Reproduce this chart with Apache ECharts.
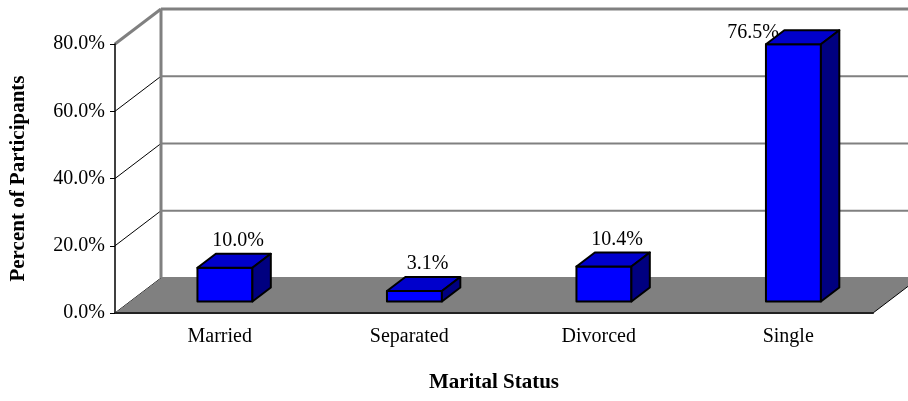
<!DOCTYPE html>
<html lang="en" style="height: 100%">
<head>
  <meta charset="utf-8">
</head>
<body style="height: 100%; margin: 0; background-color: #fff">
  <div id="container" style="width: 908px; height: 401px"></div>
  <script type="text/javascript" src="https://cdn.jsdelivr.net/npm/echarts@6.0.0/dist/echarts.min.js"></script>
  <script type="text/javascript">
    // data
    var categories = ['Married', 'Separated', 'Divorced', 'Single'];
    var percents = [10.0, 3.1, 10.4, 76.5];
    var yTicks = [0, 20, 40, 60, 80];

    var FONT = 'Liberation Serif';
    var DEPTH = [46, -35];      // offset from front plane to back wall
    var BAR_FRONT = 0.33;       // where the bar's front face sits in the depth
    var BAR_DEPTH = 0.4;        // how deep the bar is
    var BAR_WIDTH = 0.29;       // share of a category band

    var dom = document.getElementById('container');
    var myChart = echarts.init(dom, null, { renderer: 'canvas' });

    // back wall, gridlines and floor
    function renderWall(params, api) {
      var cs = params.coordSys;
      var v = api.value(1);
      var y = api.coord([0, v])[1];
      var x0 = cs.x, x1 = cs.x + cs.width;
      var top = v === yTicks[yTicks.length - 1];
      var kids = [];
      kids.push({
        type: 'line',
        shape: { x1: x0, y1: y, x2: x0 + DEPTH[0], y2: y + DEPTH[1] },
        style: { stroke: top ? '#808080' : '#000', lineWidth: top ? 3 : 1 }
      });
      kids.push({
        type: 'line',
        shape: { x1: x0 + DEPTH[0], y1: y + DEPTH[1], x2: x1 + DEPTH[0] + 40, y2: y + DEPTH[1] },
        style: { stroke: '#808080', lineWidth: top ? 3 : 2 }
      });
      if (top) {
        var y0 = api.coord([0, 0])[1];
        kids.push({
          type: 'line',
          shape: { x1: x0 + DEPTH[0], y1: y + DEPTH[1], x2: x0 + DEPTH[0], y2: y0 + DEPTH[1] },
          style: { stroke: '#808080', lineWidth: 3 }
        });
      }
      if (v === 0) {
        kids.push({
          type: 'polygon',
          z2: 5,
          shape: { points: [[x0, y], [x0 + DEPTH[0], y + DEPTH[1]], [x1 + DEPTH[0], y + DEPTH[1]], [x1, y]] },
          style: { fill: '#808080' }
        });
        kids.push({
          type: 'line',
          z2: 6,
          shape: { x1: x1, y1: y, x2: x1 + DEPTH[0], y2: y + DEPTH[1] },
          style: { stroke: '#000', lineWidth: 1 }
        });
      }
      return { type: 'group', children: kids };
    }

    function renderBar(params, api) {
      var cs = params.coordSys;
      var i = api.value(0), v = api.value(1);
      var base = api.coord([i, 0]);
      var topP = api.coord([i, v]);
      var w = api.size([1, 0])[0] * BAR_WIDTH;
      var cx = base[0] + BAR_FRONT * DEPTH[0];
      var by = base[1] + BAR_FRONT * DEPTH[1];
      var ty = topP[1] + BAR_FRONT * DEPTH[1];
      var xl = cx - w / 2, xr = cx + w / 2;
      var dx = BAR_DEPTH * DEPTH[0], dy = BAR_DEPTH * DEPTH[1];
      var edge = { stroke: '#000', lineWidth: 2, lineJoin: 'round' };
      var label = v.toFixed(1) + '%';
      var wallTop = cs.y + DEPTH[1];
      var lbl;
      if (ty + dy - 4 - 20 < wallTop) {
        // no room above: Excel puts it beside the top face
        lbl = { x: xl + 13, y: ty + dy + 3, text: label, align: 'right', verticalAlign: 'middle' };
      } else {
        lbl = { x: cx + dx / 2 + 4, y: ty + dy - 3, text: label, align: 'center', verticalAlign: 'bottom' };
      }
      lbl.fill = '#000';
      lbl.font = '20px "' + FONT + '"';
      return {
        type: 'group',
        children: [
          { type: 'text', z2: 1, style: lbl },
          {
            type: 'rect', z2: 2,
            shape: { x: xl, y: ty, width: w, height: by - ty },
            style: Object.assign({ fill: '#0000FF' }, edge)
          },
          {
            type: 'polygon', z2: 2,
            shape: { points: [[xl, ty], [xl + dx, ty + dy], [xr + dx, ty + dy], [xr, ty]] },
            style: Object.assign({ fill: '#0000CC' }, edge)
          },
          {
            type: 'polygon', z2: 2,
            shape: { points: [[xr, ty], [xr + dx, ty + dy], [xr + dx, by + dy], [xr, by]] },
            style: Object.assign({ fill: '#000080' }, edge)
          }
        ]
      };
    }

    var option = {
      animation: false,
      grid: { left: 113, right: 35, top: 44, bottom: 88 },
      xAxis: {
        type: 'category',
        data: categories,
        z: 10,
        name: 'Marital Status',
        nameLocation: 'middle',
        nameGap: 59,
        nameTextStyle: { fontFamily: FONT, fontSize: 21, fontWeight: 'bold', color: '#000' },
        axisLine: { lineStyle: { color: '#222', width: 2 } },
        axisTick: { length: 5, lineStyle: { color: '#000' } },
        axisLabel: {
          fontFamily: FONT, fontSize: 20, color: '#000',
          margin: 14, padding: [0, 0, 0, 20]
        },
        splitLine: { show: false }
      },
      yAxis: {
        type: 'value',
        min: 0,
        max: 80,
        interval: 20,
        z: 10,
        name: 'Percent of Participants',
        nameLocation: 'middle',
        nameGap: 86,
        nameTextStyle: { fontFamily: FONT, fontSize: 21, fontWeight: 'bold', color: '#000' },
        axisLine: { show: true, lineStyle: { color: '#000', width: 1.5 } },
        axisTick: { show: true, length: 5, lineStyle: { color: '#000' } },
        axisLabel: {
          fontFamily: FONT, fontSize: 20, color: '#000', margin: 10,
          formatter: function (v) { return v.toFixed(1) + '%'; }
        },
        splitLine: { show: false }
      },
      series: [
        {
          type: 'custom',
          name: 'wall',
          renderItem: renderWall,
          data: yTicks.map(function (t) { return [0, t]; }),
          silent: true,
          z: 1
        },
        {
          type: 'custom',
          name: 'Marital Status',
          renderItem: renderBar,
          data: percents.map(function (p, i) { return [i, p]; }),
          z: 3
        }
      ]
    };

    myChart.setOption(option);
    window.addEventListener('resize', myChart.resize);
  </script>
</body>
</html>
